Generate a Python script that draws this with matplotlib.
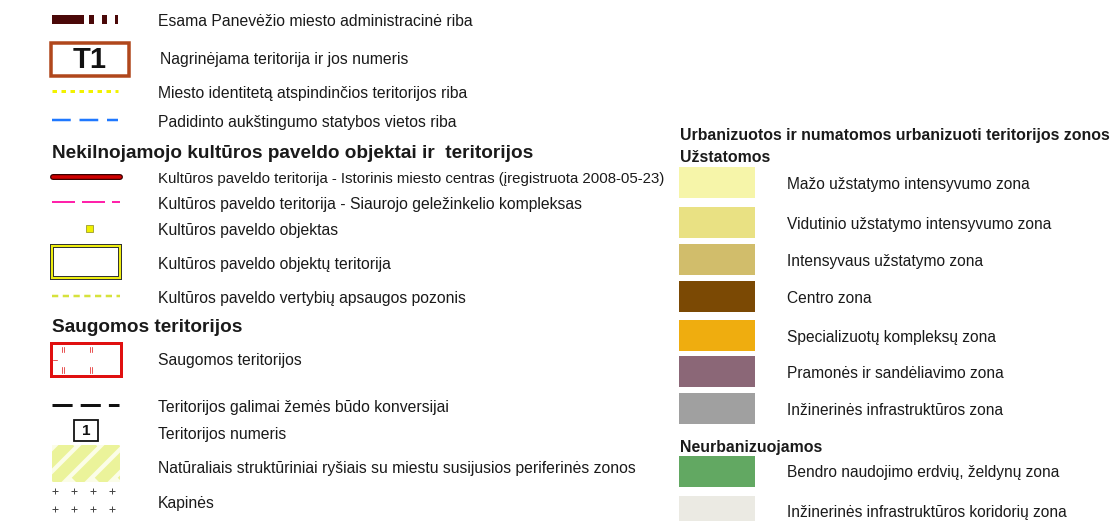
import matplotlib
matplotlib.use('Agg')
import matplotlib.pyplot as plt
from matplotlib.patches import Rectangle

plt.rcParams['font.family'] = ['Liberation Sans', 'DejaVu Sans']

# ── Legend content ──
LEFT_TOP_LABELS = [
    'Esama Panevėžio miesto administracinė riba',
    'Nagrinėjama teritorija ir jos numeris',
    'Miesto identitetą atspindinčios teritorijos riba',
    'Padidinto aukštingumo statybos vietos riba',
]
HERITAGE_TITLE = 'Nekilnojamojo kultūros paveldo objektai ir  teritorijos'
HERITAGE_LABELS = [
    'Kultūros paveldo teritorija - Istorinis miesto centras (įregistruota 2008-05-23)',
    'Kultūros paveldo teritorija - Siaurojo geležinkelio kompleksas',
    'Kultūros paveldo objektas',
    'Kultūros paveldo objektų teritorija',
    'Kultūros paveldo vertybių apsaugos pozonis',
]
PROTECTED_TITLE = 'Saugomos teritorijos'
PROTECTED_LABELS = [
    'Saugomos teritorijos',
    'Teritorijos galimai žemės būdo konversijai',
    'Teritorijos numeris',
    'Natūraliais struktūriniai ryšiais su miestu susijusios periferinės zonos',
    'Kapinės',
]

URBAN_TITLE = 'Urbanizuotos ir numatomos urbanizuoti teritorijos zonos'
BUILT_TITLE = 'Užstatomos'
BUILT_LABELS = [
    'Mažo užstatymo intensyvumo zona',
    'Vidutinio užstatymo intensyvumo zona',
    'Intensyvaus užstatymo zona',
    'Centro zona',
    'Specializuotų kompleksų zona',
    'Pramonės ir sandėliavimo zona',
    'Inžinerinės infrastruktūros zona',
]
BUILT_COLORS = ['#f6f5a9', '#e9e183', '#d1bd6b', '#7b4904',
                '#efad0f', '#8b6777', '#a0a0a0']
NONURBAN_TITLE = 'Neurbanizuojamos'
NONURBAN_LABELS = [
    'Bendro naudojimo erdvių, želdynų zona',
    'Inžinerinės infrastruktūros koridorių zona',
]
NONURBAN_COLORS = ['#62a862', '#ebeae3']

# ── Layout (pixel coordinates) ──
W, H = 1111, 521
TEXT_COLOR = '#1a1a1a'
FS_L = 11.3      # left column labels
FS_R = 11.2      # right column labels
HFS_L = 13.7     # left headings
HFS_R = 11.4     # right headings

fig = plt.figure(figsize=(W / 100, H / 100), dpi=100, facecolor='white')
ax = fig.add_axes([0, 0, 1, 1])
ax.set_xlim(0, W)
ax.set_ylim(H, 0)
ax.axis('off')


def px(v):
    # pixels -> points
    return v * 0.72


def label(x, y, s, fs, **kw):
    ax.text(x, y, s, fontsize=fs, color=TEXT_COLOR,
            va='center_baseline', ha='left', **kw)


# ── Left column: boundaries ──
top_y = [20, 58, 92, 121]
for s, y in zip(LEFT_TOP_LABELS, top_y):
    label(158 if s[0] != 'N' else 160, y, s, FS_L)

# administrative boundary
ax.add_patch(Rectangle((52, 15), 32, 9, color='#4a0808', lw=0))
for x0, w in [(89, 5), (102, 5), (115, 3)]:
    ax.add_patch(Rectangle((x0, 15), w, 9, color='#4a0808', lw=0))

# T1 box
ax.add_patch(Rectangle((51, 43), 78, 33, fc='white', ec='#b0471c', lw=px(3.5)))
ax.text(90, 60, 'T1', fontsize=21, fontweight='bold', ha='center', va='center',
        color='#111111')

# identity boundary (yellow dots)
ax.plot([52, 118], [91, 91], color='#f2f200', lw=px(3), dashes=(1.5, 1.5))
# high-rise boundary (blue dashes)
ax.plot([52, 118], [120, 120], color='#1f78ff', lw=px(2.5), dashes=(7.5, 3.5))

# ── Heritage ──
label(52, 152, HERITAGE_TITLE, HFS_L, fontweight='bold')
her_y = [177, 203, 229, 263, 297]
for i, (s, y) in enumerate(zip(HERITAGE_LABELS, her_y)):
    # the long first line is set a touch tighter so it stops before the zones
    label(158, y, s, 10.85 if i == 0 else FS_L)

ax.plot([53, 120], [177, 177], color='#3a0000', lw=px(6), solid_capstyle='round')
ax.plot([53, 120], [177, 177], color='#d00000', lw=px(3.5), solid_capstyle='round')
ax.plot([52, 120], [202, 202], color='#ff22aa', lw=px(2), dashes=(11.5, 3.5))
ax.add_patch(Rectangle((86, 225), 7, 7, fc='#f0f000', ec='#9a9a30', lw=0.6))
ax.add_patch(Rectangle((52, 246), 68, 32, fc='white', ec='#333333', lw=px(4)))
ax.add_patch(Rectangle((52, 246), 68, 32, fc='none', ec='#eeee10', lw=px(2)))
ax.plot([52, 120], [296, 296], color='#d6e23c', lw=px(2.5), dashes=(2.5, 1.8))

# ── Protected areas ──
label(52, 326, PROTECTED_TITLE, HFS_L, fontweight='bold')
prot_y = [359, 406, 433, 467, 502]
for s, y in zip(PROTECTED_LABELS, prot_y):
    label(158, y, s, FS_L)

ax.add_patch(Rectangle((51, 343), 70, 33, fc='white', ec='#e01010', lw=px(3)))
for x0 in [62, 90]:
    for y0, y1 in [(347, 352), (367, 373)]:
        ax.plot([x0, x0], [y0, y1], color='#e01010', lw=0.5)
        ax.plot([x0 + 2, x0 + 2], [y0, y1], color='#e01010', lw=0.5)
ax.plot([53, 57], [360, 360], color='#e01010', lw=0.5)

ax.plot([52, 119], [405, 405], color='#111111', lw=px(3), dashes=(6.7, 2.7))

ax.add_patch(Rectangle((74, 420), 24, 21, fc='white', ec='#111111', lw=px(1.8)))
ax.text(86, 431, '1', fontsize=11, fontweight='bold', ha='center', va='center',
        color='#111111')

# natural link zones: light field with wide diagonal stripes
field = Rectangle((52, 445), 68, 37, fc='#fbfde8', lw=0)
ax.add_patch(field)
for x0 in [30, 53, 76, 99, 122]:
    stripe, = ax.plot([x0, x0 + 40], [482, 442], color='#ebf39a', lw=px(12),
                      solid_capstyle='butt')
    stripe.set_clip_path(field)

for yy in [491, 509]:
    for xx in [55, 74, 93, 112]:
        ax.plot(xx, yy, marker='+', color='#444444', ms=5, mew=0.7)

# ── Right column: zones ──
label(680, 134, URBAN_TITLE, HFS_R, fontweight='bold')
label(680, 156, BUILT_TITLE, HFS_R, fontweight='bold')
built_top = [167, 207, 244, 281, 320, 356, 393]
for s, c, y in zip(BUILT_LABELS, BUILT_COLORS, built_top):
    ax.add_patch(Rectangle((679, y), 76, 31, fc=c, lw=0))
    label(787, y + 16, s, FS_R)

label(680, 446, NONURBAN_TITLE, HFS_R, fontweight='bold')
non_top = [456, 496]
for s, c, y in zip(NONURBAN_LABELS, NONURBAN_COLORS, non_top):
    ax.add_patch(Rectangle((679, y), 76, 31, fc=c, lw=0))
    label(787, y + 15, s, FS_R)

fig.savefig('out.png', dpi=100, facecolor='white')
